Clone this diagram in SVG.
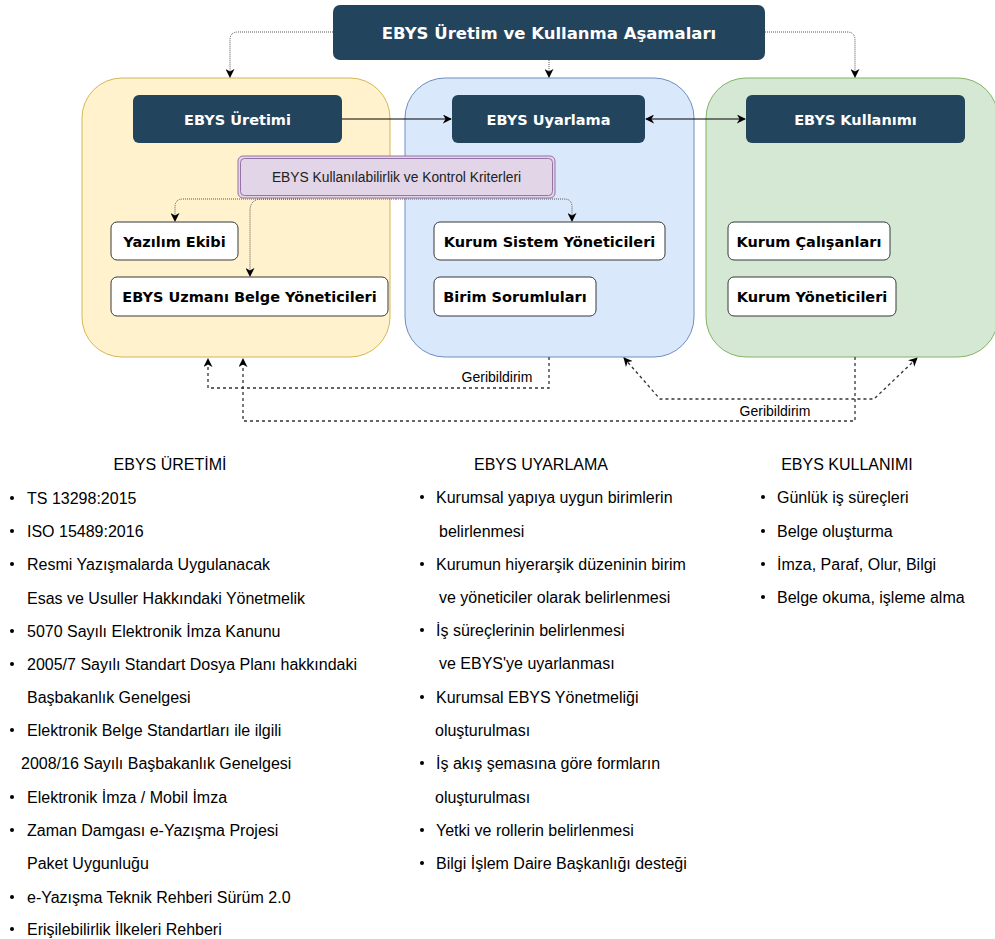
<svg xmlns="http://www.w3.org/2000/svg" width="995" height="939" viewBox="0 0 995 939">
<style>
.hdr{fill:#23445d;}
.hdrt{font-family:"DejaVu Sans",Verdana,sans-serif;font-weight:bold;font-size:14.5px;fill:#ffffff;text-anchor:middle;}
.ttl{font-family:"DejaVu Sans",Verdana,sans-serif;font-weight:bold;font-size:16.5px;fill:#ffffff;text-anchor:middle;}
.nd{fill:#ffffff;stroke:#36393d;stroke-width:1;}
.ndt{font-family:"DejaVu Sans",Verdana,sans-serif;font-weight:bold;font-size:14.5px;fill:#000000;text-anchor:middle;}
.lst{font-family:"Liberation Sans",Helvetica,Arial,sans-serif;font-size:16px;fill:#000000;}
.lh{font-family:"Liberation Sans",Helvetica,Arial,sans-serif;font-size:16px;fill:#000000;text-anchor:middle;}
.lbl{font-family:"Liberation Sans",Helvetica,Arial,sans-serif;font-size:14px;fill:#000000;text-anchor:middle;}
.dot{fill:none;stroke:#555555;stroke-width:1;stroke-dasharray:1 1;}
.fb{fill:none;stroke:#333333;stroke-width:1.3;stroke-dasharray:3 3;}
.sol{fill:none;stroke:#000000;stroke-width:1;}
</style>
<defs>
<marker id="ah" viewBox="0 0 10 10" refX="9" refY="5" markerWidth="9" markerHeight="9" markerUnits="userSpaceOnUse" orient="auto-start-reverse">
<path d="M0,0 L10,5 L0,10 L3,5 Z" fill="#000000"/>
</marker>
</defs>

<g id="panel-uretim"><rect x="82" y="78" width="308" height="279" rx="40" fill="#fff2cc" stroke="#d6b656" stroke-width="1"/></g>
<g id="panel-uyarlama"><rect x="405" y="78" width="289" height="279" rx="40" fill="#dae8fc" stroke="#6c8ebf" stroke-width="1"/></g>
<g id="panel-kullanim"><rect x="706" y="78" width="292" height="279" rx="40" fill="#d5e8d4" stroke="#82b366" stroke-width="1"/></g>

<g id="connectors">
<path class="dot" d="M333 32 H238 Q230 32 230 40 V77" marker-end="url(#ah)"/>
<path class="dot" d="M549 60 V77" marker-end="url(#ah)"/>
<path class="dot" d="M765 32 H847 Q855 32 855 40 V77" marker-end="url(#ah)"/>
<path class="sol" d="M342 119 H451" marker-end="url(#ah)"/>
<path class="sol" d="M646 119 H745" marker-start="url(#ah)" marker-end="url(#ah)"/>
<path class="dot" d="M396 199 H183 Q175 199 175 207 V221" marker-end="url(#ah)"/>
<path class="dot" d="M300 199 H262 Q250 199 250 211 V276" marker-end="url(#ah)"/>
<path class="dot" d="M396 199 H564 Q572 199 572 207 V221" marker-end="url(#ah)"/>
<path class="fb" d="M549 357 V388 H208 V359" marker-end="url(#ah)"/>
<path class="fb" d="M855 357 V421 H243 V359" marker-end="url(#ah)"/>
<path class="fb" d="M624 358 L660 399 H874 L917 358" marker-start="url(#ah)" marker-end="url(#ah)"/>
<text class="lbl" x="497" y="382">Geribildirim</text>
<text class="lbl" x="775" y="416">Geribildirim</text>
</g>

<g id="title"><rect class="hdr" x="333" y="5" width="432" height="55" rx="7"/><text class="ttl" x="549" y="39">EBYS Üretim ve Kullanma Aşamaları</text></g>
<g id="uretim"><rect class="hdr" x="133" y="95" width="209" height="48" rx="6"/><text class="hdrt" x="237.5" y="124.5">EBYS Üretimi</text></g>
<g id="uyarlama"><rect class="hdr" x="452" y="95" width="193" height="48" rx="6"/><text class="hdrt" x="548.5" y="124.5">EBYS Uyarlama</text></g>
<g id="kullanim"><rect class="hdr" x="746" y="95" width="219" height="48" rx="6"/><text class="hdrt" x="855.5" y="124.5">EBYS Kullanımı</text></g>

<g id="kriterler">
<rect x="238" y="156" width="317" height="42" rx="5" fill="#e1d5e7" stroke="#9673a6" stroke-width="1"/>
<rect x="240.5" y="158.5" width="312" height="37" rx="4" fill="none" stroke="#9673a6" stroke-width="1"/>
<text x="396.5" y="182" font-family="'Liberation Sans',Helvetica,Arial,sans-serif" font-size="13.8px" text-anchor="middle" fill="#222222">EBYS Kullanılabilirlik ve Kontrol Kriterleri</text>
</g>

<g id="yazilim"><rect class="nd" x="111" y="222" width="127" height="38" rx="6"/><text class="ndt" x="174.5" y="246.5">Yazılım Ekibi</text></g>
<g id="uzman"><rect class="nd" x="111" y="277" width="277" height="39" rx="6"/><text class="ndt" x="249.5" y="302">EBYS Uzmanı Belge Yöneticileri</text></g>
<g id="sistem"><rect class="nd" x="434" y="222" width="231" height="38" rx="6"/><text class="ndt" x="549.5" y="246.5">Kurum Sistem Yöneticileri</text></g>
<g id="birim"><rect class="nd" x="434" y="277" width="162" height="39" rx="6"/><text class="ndt" x="515" y="302">Birim Sorumluları</text></g>
<g id="calisan"><rect class="nd" x="728" y="222" width="162" height="38" rx="6"/><text class="ndt" x="809" y="246.5">Kurum Çalışanları</text></g>
<g id="yonetici"><rect class="nd" x="728" y="277" width="168" height="39" rx="6"/><text class="ndt" x="812" y="302">Kurum Yöneticileri</text></g>

<g id="list-uretim">
<text class="lh" x="170" y="470">EBYS ÜRETİMİ</text>
<g fill="#000000">
<circle cx="12" cy="498" r="2"/><circle cx="12" cy="531" r="2"/><circle cx="12" cy="564" r="2"/><circle cx="12" cy="631" r="2"/><circle cx="12" cy="664" r="2"/><circle cx="12" cy="730" r="2"/><circle cx="12" cy="797" r="2"/><circle cx="12" cy="830" r="2"/><circle cx="12" cy="897" r="2"/><circle cx="12" cy="929" r="2"/>
</g>
<text class="lst" x="27" y="504">TS 13298:2015</text>
<text class="lst" x="27" y="537">ISO 15489:2016</text>
<text class="lst" x="27" y="570">Resmi Yazışmalarda Uygulanacak</text>
<text class="lst" x="27" y="604">Esas ve Usuller Hakkındaki Yönetmelik</text>
<text class="lst" x="27" y="637">5070 Sayılı Elektronik İmza Kanunu</text>
<text class="lst" x="27" y="670">2005/7 Sayılı Standart Dosya Planı hakkındaki</text>
<text class="lst" x="27" y="703">Başbakanlık Genelgesi</text>
<text class="lst" x="27" y="736">Elektronik Belge Standartları ile ilgili</text>
<text class="lst" x="21" y="769">2008/16 Sayılı Başbakanlık Genelgesi</text>
<text class="lst" x="27" y="803">Elektronik İmza / Mobil İmza</text>
<text class="lst" x="27" y="836">Zaman Damgası e-Yazışma Projesi</text>
<text class="lst" x="27" y="869">Paket Uygunluğu</text>
<text class="lst" x="27" y="903">e-Yazışma Teknik Rehberi Sürüm 2.0</text>
<text class="lst" x="27" y="935">Erişilebilirlik İlkeleri Rehberi</text>
</g>

<g id="list-uyarlama">
<text class="lh" x="541" y="470">EBYS UYARLAMA</text>
<g fill="#000000">
<circle cx="422" cy="497" r="2"/><circle cx="422" cy="564" r="2"/><circle cx="422" cy="630" r="2"/><circle cx="422" cy="697" r="2"/><circle cx="422" cy="763" r="2"/><circle cx="422" cy="830" r="2"/><circle cx="422" cy="863" r="2"/>
</g>
<text class="lst" x="436" y="503">Kurumsal yapıya uygun birimlerin</text>
<text class="lst" x="439" y="537">belirlenmesi</text>
<text class="lst" x="436" y="570">Kurumun hiyerarşik düzeninin birim</text>
<text class="lst" x="439" y="603">ve yöneticiler olarak belirlenmesi</text>
<text class="lst" x="436" y="636">İş süreçlerinin belirlenmesi</text>
<text class="lst" x="439" y="669">ve EBYS'ye uyarlanması</text>
<text class="lst" x="436" y="703">Kurumsal EBYS Yönetmeliği</text>
<text class="lst" x="435" y="736">oluşturulması</text>
<text class="lst" x="436" y="769">İş akış şemasına göre formların</text>
<text class="lst" x="435" y="803">oluşturulması</text>
<text class="lst" x="436" y="836">Yetki ve rollerin belirlenmesi</text>
<text class="lst" x="436" y="869">Bilgi İşlem Daire Başkanlığı desteği</text>
</g>

<g id="list-kullanim">
<text class="lh" x="847" y="470">EBYS KULLANIMI</text>
<g fill="#000000">
<circle cx="763" cy="497" r="2"/><circle cx="763" cy="531" r="2"/><circle cx="763" cy="564" r="2"/><circle cx="763" cy="597" r="2"/>
</g>
<text class="lst" x="777" y="503">Günlük iş süreçleri</text>
<text class="lst" x="777" y="537">Belge oluşturma</text>
<text class="lst" x="777" y="570">İmza, Paraf, Olur, Bilgi</text>
<text class="lst" x="777" y="603">Belge okuma, işleme alma</text>
</g>
</svg>
